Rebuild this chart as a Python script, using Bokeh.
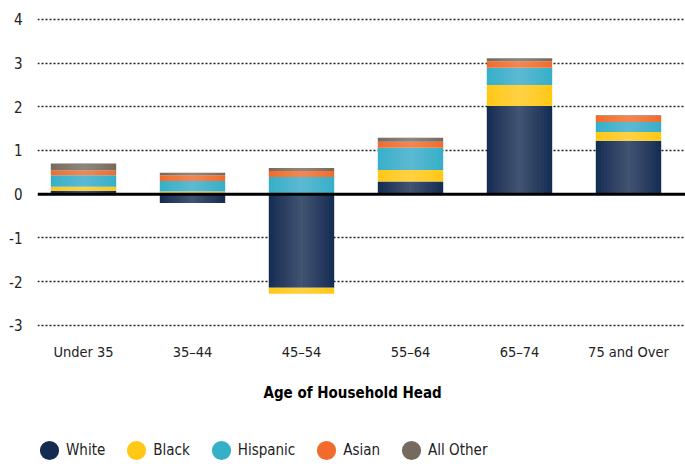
import numpy as np
from bokeh.plotting import figure
from bokeh.layouts import column
from bokeh.models import Range1d, FixedTicker, Span, Legend, LegendItem, Title
from bokeh.embed import file_html
from bokeh.resources import INLINE

# ---- data ----
categories = ["Under 35", "35–44", "45–54", "55–64", "65–74", "75 and Over"]
series_names = ["White", "Black", "Hispanic", "Asian", "All Other"]
white = [0.08, -0.20, -2.14, 0.29, 2.02, 1.22]
black = [0.09, 0.06, -0.14, 0.26, 0.48, 0.20]
hispanic = [0.26, 0.24, 0.39, 0.51, 0.39, 0.23]
asian = [0.11, 0.13, 0.14, 0.14, 0.15, 0.15]
other = [0.16, 0.06, 0.07, 0.09, 0.07, 0.01]
y_ticks = [-3, -2, -1, 0, 1, 2, 3, 4]
y_tick_labels = ["-3", "-2", "-1", "0", "1", "2", "3", "4"]
x_title = "Age of Household Head"

series = [white, black, hispanic, asian, other]
colors = ["#142c52", "#ffc814", "#36afc9", "#f26b2b", "#766a5f"]
FONT = "DejaVu Sans Condensed, DejaVu Sans, sans-serif"
TXT = "#222222"

W = 685
MAIN_H = 425
LEG_H = 464 - MAIN_H

p = figure(width=W, height=MAIN_H, output_backend="svg", toolbar_location=None,
           x_range=Range1d(-0.422, 5.523), y_range=Range1d(-3.304, 4.432),
           min_border_left=37, min_border_right=0, min_border_top=0,
           min_border_bottom=MAIN_H - 340)
p.outline_line_color = None
p.background_fill_color = "white"
p.border_fill_color = "white"

x = np.arange(len(categories))
pos_base = np.zeros(len(x))
neg_base = np.zeros(len(x))
for vals, col in zip(series, colors):
    v = np.array(vals, dtype=float)
    bottom = np.where(v >= 0, pos_base, neg_base)
    top = bottom + v
    p.vbar(x=x, bottom=bottom, top=top, width=0.6, fill_color=col, line_color=None)
    pos_base = np.where(v >= 0, top, pos_base)
    neg_base = np.where(v < 0, top, neg_base)

# soft vertical sheen (lighter in the middle of each bar)
n_strips = 10
for i in range(n_strips):
    w = 0.6 * (1 - (i + 0.5) / n_strips)
    p.vbar(x=x, bottom=neg_base, top=pos_base, width=w, fill_color="white",
           fill_alpha=0.022, line_color=None)

# grid
p.xgrid.grid_line_color = None
p.ygrid.ticker = FixedTicker(ticks=[t for t in y_ticks if t != 0])
p.ygrid.grid_line_color = "#222222"
p.ygrid.grid_line_dash = "2 2"
p.ygrid.grid_line_width = 1.6

p.add_layout(Span(location=0, dimension="width", line_color="black", line_width=3))

# axes
for ax in (p.xaxis[0], p.yaxis[0]):
    ax.axis_line_color = None
    ax.major_tick_line_color = None
    ax.minor_tick_line_color = None
    ax.major_tick_out = 0
    ax.major_tick_in = 0
    ax.minor_tick_out = 0
    ax.minor_tick_in = 0
    ax.major_label_text_font = FONT
    ax.major_label_text_color = TXT

p.yaxis.ticker = FixedTicker(ticks=y_ticks)
p.yaxis.major_label_overrides = dict(zip(y_ticks, y_tick_labels))
p.yaxis.major_label_text_font_size = "15px"
p.yaxis.major_label_standoff = 15

p.xaxis.ticker = FixedTicker(ticks=list(range(len(categories))))
p.xaxis.major_label_overrides = {i: c for i, c in enumerate(categories)}
p.xaxis.major_label_text_font_size = "14.5px"
p.xaxis.major_label_standoff = 5

# axis title (left-aligned with an offset so it sits where the reference has it)
p.add_layout(Title(text=x_title, align="left", offset=226, vertical_align="top",
                   standoff=43, text_font=FONT, text_font_size="15px",
                   text_font_style="bold", text_color="black"), "below")

# legend strip below the chart
lg = figure(width=W, height=LEG_H, output_backend="svg", toolbar_location=None,
            x_range=Range1d(0, 1), y_range=Range1d(0, 1),
            x_axis_type=None, y_axis_type=None,
            min_border_left=0, min_border_right=0, min_border_top=0,
            min_border_bottom=0)
lg.outline_line_color = None
lg.background_fill_color = "white"
lg.border_fill_color = "white"

items = []
for name, col in zip(series_names, colors):
    r = lg.ellipse(x=np.array([np.nan]), y=np.array([np.nan]), width=10, height=10,
                   width_units="screen", height_units="screen",
                   fill_color=col, line_color=None)
    items.append(LegendItem(label=name, renderers=[r]))
legend = Legend(items=items, location=(0, 2), orientation="horizontal",
                glyph_width=24, glyph_height=24, label_standoff=5, spacing=19,
                padding=0, margin=0, border_line_color=None,
                background_fill_alpha=0, label_text_font=FONT,
                label_text_font_size="15px", label_text_color=TXT)
lg.add_layout(legend)

layout = column(p, lg, spacing=0)
open("out.html", "w").write(file_html(layout, INLINE))
